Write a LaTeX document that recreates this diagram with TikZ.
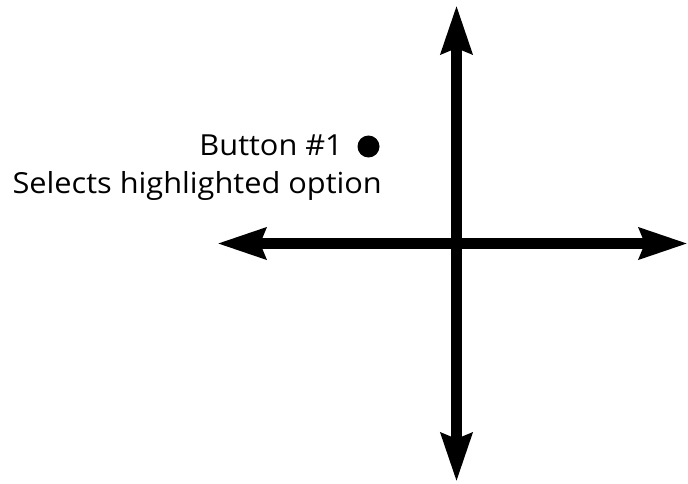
\documentclass[tikz,border=0pt]{standalone}
\usepackage{fontspec}
\setmainfont{Open Sans}[FakeStretch=1.06]
\usetikzlibrary{arrows.meta}
\tikzset{
  axis/.style={line width=11pt, {Stealth[length=48pt,width=30pt,inset=5pt]}-{Stealth[length=48pt,width=30pt,inset=5pt]}},
  lbl/.style={font=\fontsize{29}{31}\selectfont, inner sep=0pt, anchor=base east},
  dot/.style={circle, fill=black, inner sep=0pt, minimum size=22pt}
}
\begin{document}
\begin{tikzpicture}[x=1pt,y=1pt]
\useasboundingbox (0,0) rectangle (688,483);
\coordinate (top) at (456.5,478);
\coordinate (bottom) at (456.5,1);
\coordinate (left) at (217,239.5);
\coordinate (right) at (688,239.5);
\draw[axis] (bottom) -- (top);
\draw[axis] (left) -- (right);
\node[dot] (btn) at (368.5,336.5) {};
\node[lbl] (b1) at (343,327) {Button \#1};
\node[lbl] (desc) at (382,290) {Selects highlighted option};
\end{tikzpicture}
\end{document}
